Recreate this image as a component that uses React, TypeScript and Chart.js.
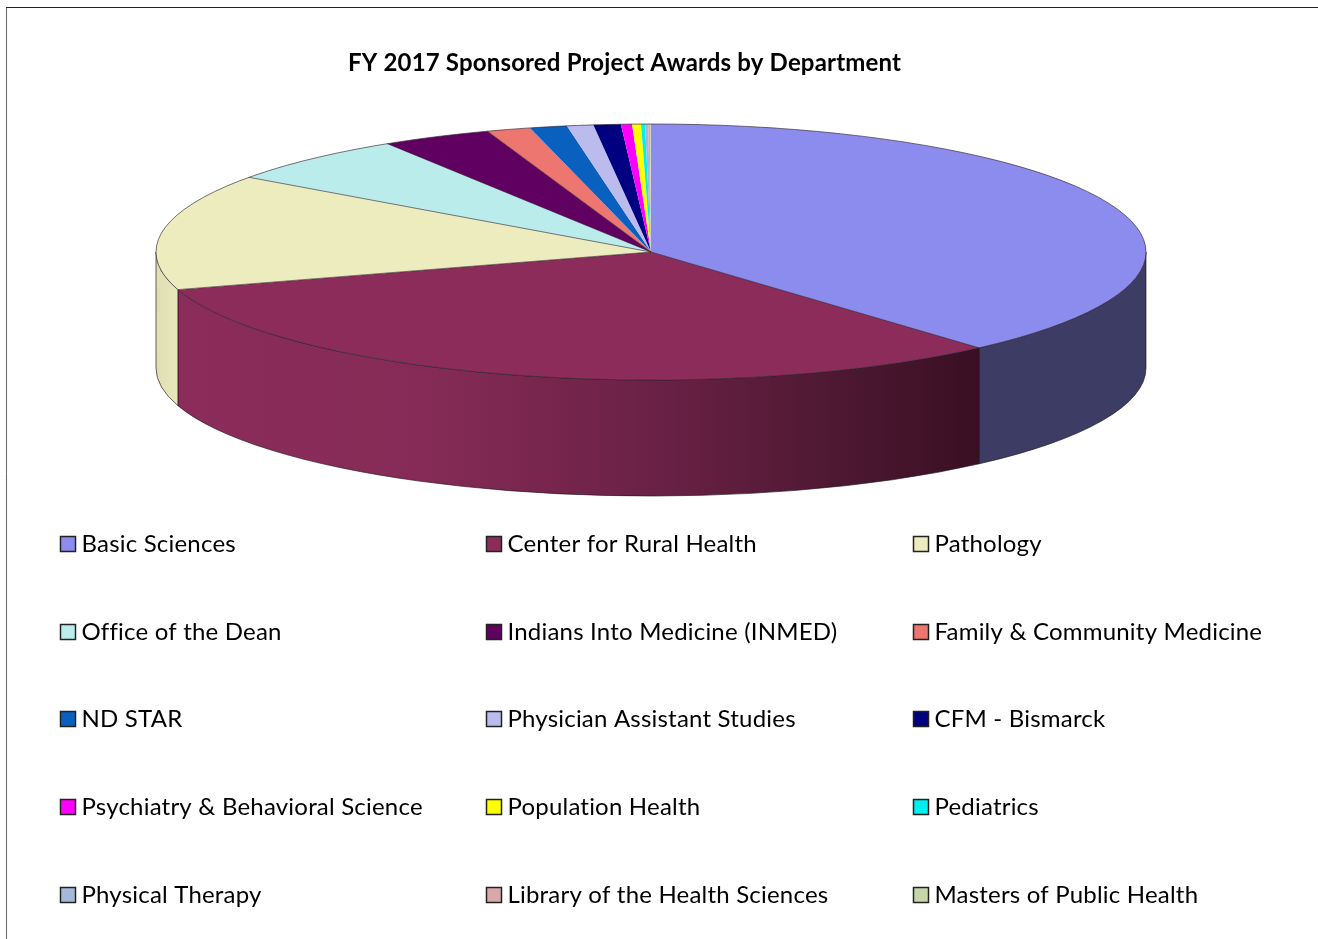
import React, { useEffect, useRef } from "react";
import { Chart, registerables } from "chart.js";

Chart.register(...registerables);

const titleText = "FY 2017 Sponsored Project Awards by Department";
const categories = [
  "Basic Sciences", "Center for Rural Health", "Pathology",
  "Office of the Dean", "Indians Into Medicine (INMED)", "Family & Community Medicine",
  "ND STAR", "Physician Assistant Studies", "CFM - Bismarck",
  "Psychiatry & Behavioral Science", "Population Health", "Pediatrics",
  "Physical Therapy", "Library of the Health Sciences", "Masters of Public Health",
];
const shares = [38.47, 31.78, 14.67, 6.14, 3.58, 1.43, 1.21, 0.86, 0.89, 0.36, 0.29, 0.13, 0.1, 0.06, 0.03];
const colors = [
  "#8C8CEE", "#8B2C5A", "#ECECBE", "#BBECEC", "#600060", "#EE7670", "#0A60BE", "#BBBBEE",
  "#000080", "#FF00FF", "#FFFF00", "#00F0F0", "#A6B8D8", "#D9A8A8", "#C6D6A8",
];
const wallStops: Record<number, [number, string][]> = {
  0: [[0, "#3C3C64"], [1, "#3C3C64"]],
  1: [[0, "#8B2C5A"], [0.3, "#862B57"], [0.6, "#6A2145"], [0.85, "#4A1730"], [1, "#3A0F22"]],
  2: [[0, "#DEDEB2"], [1, "#E8E8BC"]],
};

const RATIO = 128 / 495;
const DEPTH = 116;
const legendX = [60, 486, 913];
const legendY = [544, 632, 719, 807, 895];
const FONT = "Lato, 'Open Sans', sans-serif";

const pie3d = {
  id: "pie3d",
  beforeDraw(chart: any) {
    const c = chart.ctx;
    c.save();
    c.fillStyle = "#fff";
    c.fillRect(0, 0, 1318, 939);
    c.lineWidth = 1;
    c.beginPath();
    c.moveTo(6.5, 939);
    c.lineTo(6.5, 7.5);
    c.strokeStyle = "#666";
    c.stroke();
    c.beginPath();
    c.moveTo(6, 7.5);
    c.lineTo(1318, 7.5);
    c.strokeStyle = "#222";
    c.stroke();
    c.restore();
  },
  beforeDatasetsDraw(chart: any) {
    const c = chart.ctx;
    const arcs = chart.getDatasetMeta(0).data;
    c.save();
    arcs.forEach((a: any, i: number) => {
      const from = Math.max(a.startAngle, 0);
      const to = Math.min(a.endAngle, Math.PI);
      if (to <= from) return;
      const rx = a.outerRadius;
      const ry = rx * RATIO;
      const x0 = a.x + rx * Math.cos(to);
      const x1 = a.x + rx * Math.cos(from);
      c.beginPath();
      c.ellipse(a.x, a.y, rx, ry, 0, from, to);
      c.lineTo(x0, a.y + ry * Math.sin(to) + DEPTH);
      c.ellipse(a.x, a.y + DEPTH, rx, ry, 0, to, from, true);
      c.closePath();
      const g = c.createLinearGradient(x0, 0, x1, 0);
      (wallStops[i] || [[0, colors[i]], [1, colors[i]]]).forEach(([p, col]: any) => g.addColorStop(p, col));
      c.fillStyle = g;
      c.fill();
      c.strokeStyle = "rgba(30,20,30,0.65)";
      c.lineWidth = 1;
      c.stroke();
    });
    c.restore();
    c.save();
    const a0 = arcs[0];
    c.translate(a0.x, a0.y);
    c.scale(1, RATIO);
    c.translate(-a0.x, -a0.y);
  },
  afterDatasetsDraw(chart: any) {
    const c = chart.ctx;
    c.restore();
    const arcs = chart.getDatasetMeta(0).data;
    const a0 = arcs[0];
    const rx = a0.outerRadius;
    const ry = rx * RATIO;
    c.save();
    c.lineWidth = 1;
    c.strokeStyle = "rgba(40,30,40,0.6)";
    arcs.forEach((a: any, i: number) => {
      if (shares[i] < 3) return;
      c.beginPath();
      c.moveTo(a.x, a.y);
      c.lineTo(a.x + rx * Math.cos(a.endAngle), a.y + ry * Math.sin(a.endAngle));
      c.stroke();
    });
    c.beginPath();
    c.ellipse(a0.x, a0.y, rx, ry, 0, 0, Math.PI * 2);
    c.strokeStyle = "rgba(50,40,50,0.65)";
    c.stroke();
    c.restore();
  },
  afterDraw(chart: any) {
    const c = chart.ctx;
    c.save();
    c.fillStyle = "#000";
    c.textBaseline = "alphabetic";
    c.textAlign = "left";
    c.font = `bold 24px ${FONT}`;
    c.letterSpacing = "0.17px";
    c.fillText(titleText, 348, 70.5);
    c.font = `24px ${FONT}`;
    c.letterSpacing = "0.2px";
    chart.data.labels.forEach((label: string, i: number) => {
      const col = i % 3;
      const row = Math.floor(i / 3);
      const x = legendX[col];
      const y = legendY[row];
      c.fillStyle = colors[i];
      c.fillRect(x + 0.5, y - 7.5, 15, 15);
      c.strokeStyle = "#222";
      c.lineWidth = 1.5;
      c.strokeRect(x + 0.5, y - 7.5, 15, 15);
      c.fillStyle = "#000";
      c.fillText(label, x + 21.5, y + 8);
    });
    c.restore();
  },
};

export default function App() {
  const ref = useRef<HTMLCanvasElement>(null);
  useEffect(() => {
    const chart = new Chart(ref.current!, {
      type: "pie",
      data: {
        labels: categories,
        datasets: [{ data: shares, backgroundColor: colors, borderWidth: 0, radius: 495 }],
      },
      options: {
        responsive: false,
        animation: false,
        layout: { padding: { left: 0, right: 16, top: 0, bottom: 435 } },
        plugins: { legend: { display: false }, tooltip: { enabled: false } },
      },
      plugins: [pie3d],
    } as any);
    return () => chart.destroy();
  }, []);
  return (
    <div style={{ position: "absolute", left: 0, top: 0, width: 1318, height: 939 }}>
      <canvas ref={ref} width={1318} height={939} style={{ display: "block" }} />
    </div>
  );
}
